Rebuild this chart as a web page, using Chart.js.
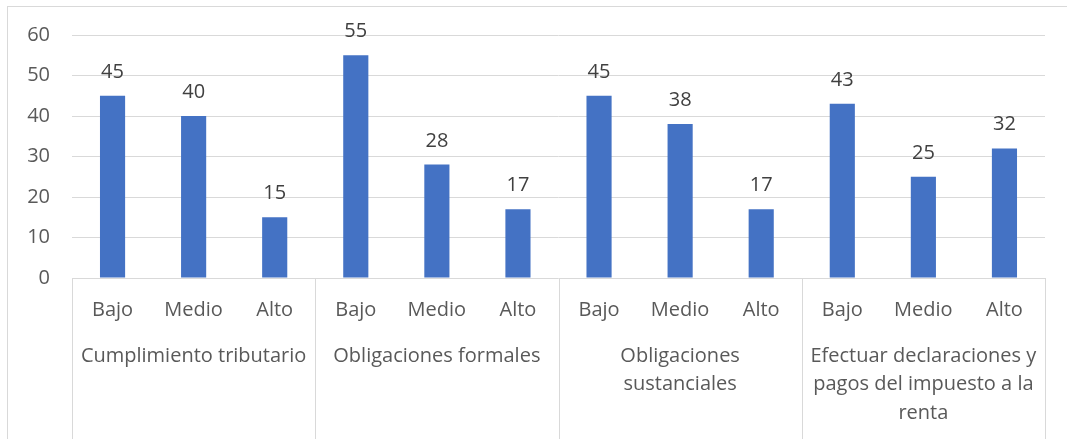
<!DOCTYPE html>
<html>
<head>
<meta charset="utf-8">
<script src="https://cdn.jsdelivr.net/npm/chart.js@4"></script>
<style>
    html, body { margin: 0; padding: 0; background: #fff; }
    #wrap { width: 1067px; height: 439px; position: relative; }
</style>
</head>
<body>
<div id="wrap"><canvas id="niveles"></canvas></div>
<script>
/* ------------------------------------------------------------
   DATOS
------------------------------------------------------------- */
const groups = [
    ["Cumplimiento tributario"],
    ["Obligaciones formales"],
    ["Obligaciones", "sustanciales"],
    ["Efectuar declaraciones y", "pagos del impuesto a la", "renta"]
];
const levels = ["Bajo", "Medio", "Alto"];
const values = [45, 40, 15, 55, 28, 17, 45, 38, 17, 43, 25, 32];
const yMax = 60;
const yStep = 10;

const labels = [];
groups.forEach(() => levels.forEach(l => labels.push(l)));

const FONT = "'Open Sans', sans-serif";
const SIZE = 20;
const GRID = "#d9d9d9";
const TEXT = "#595959";

/* ------------------------------------------------------------
   PLUGINS — marco, etiquetas de valor, grupos
------------------------------------------------------------- */
const framePlugin = {
    id: "frame",
    beforeDraw(chart) {
        const ctx = chart.ctx;
        ctx.save();
        ctx.strokeStyle = GRID;
        ctx.lineWidth = 1;
        ctx.strokeRect(7.5, 6.5, 1200, 600);
        ctx.restore();
    }
};

const valuePlugin = {
    id: "values",
    afterDatasetsDraw(chart) {
        const ctx = chart.ctx;
        const meta = chart.getDatasetMeta(0);
        ctx.save();
        ctx.font = SIZE + "px " + FONT;
        ctx.fillStyle = "#404040";
        ctx.textAlign = "center";
        ctx.textBaseline = "alphabetic";
        meta.data.forEach((bar, i) => {
            ctx.fillText(values[i], bar.x, bar.y - 18);
        });
        ctx.restore();
    }
};

const groupPlugin = {
    id: "groups",
    afterDraw(chart) {
        const ctx = chart.ctx;
        const x = chart.scales.x;
        const area = chart.chartArea;
        const n = levels.length;
        const bounds = [area.left];
        for (let g = 1; g < groups.length; g++) {
            bounds.push((x.getPixelForValue(g * n - 1) + x.getPixelForValue(g * n)) / 2);
        }
        bounds.push(area.right);

        ctx.save();
        ctx.strokeStyle = GRID;
        ctx.lineWidth = 1;
        bounds.forEach(b => {
            const px = Math.round(b) + 0.5;
            ctx.beginPath();
            ctx.moveTo(px, area.bottom);
            ctx.lineTo(px, chart.height);
            ctx.stroke();
        });

        ctx.font = SIZE + "px " + FONT;
        ctx.fillStyle = TEXT;
        ctx.textAlign = "center";
        ctx.textBaseline = "middle";
        groups.forEach((lines, g) => {
            const cx = (bounds[g] + bounds[g + 1]) / 2;
            lines.forEach((line, k) => {
                ctx.fillText(line, cx, area.bottom + 78 + k * 28.5);
            });
        });
        ctx.restore();
    }
};

/* ------------------------------------------------------------
   GRAF
------------------------------------------------------------- */
const canvas = document.querySelector("#niveles");

new Chart(canvas, {
    type: "bar",
    data: {
        labels,
        datasets: [{
            data: values,
            backgroundColor: "#4472c4",
            categoryPercentage: 1,
            barPercentage: 0.31
        }]
    },
    options: {
        responsive: true,
        maintainAspectRatio: false,
        animation: false,
        layout: { padding: { left: 0, right: 22, top: 35, bottom: 0 } },
        plugins: {
            legend: { display: false },
            tooltip: { enabled: false }
        },
        scales: {
            x: {
                grid: { display: false, drawTicks: false },
                border: { display: false },
                ticks: {
                    color: TEXT,
                    font: { family: FONT, size: SIZE },
                    padding: 20,
                    maxRotation: 0,
                    autoSkip: false
                },
                afterFit(scale) { scale.height = 161; }
            },
            y: {
                min: 0,
                max: yMax,
                grid: { color: GRID, drawTicks: false },
                border: { display: false },
                ticks: {
                    stepSize: yStep,
                    color: TEXT,
                    font: { family: FONT, size: SIZE },
                    padding: 22
                },
                afterFit(scale) { scale.width = 72; }
            }
        }
    },
    plugins: [framePlugin, valuePlugin, groupPlugin]
});
</script>
</body>
</html>
